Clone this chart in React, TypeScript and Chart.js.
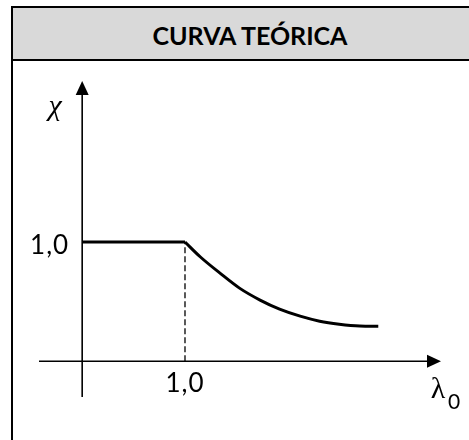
import React, { useEffect, useRef } from "react";
import { Chart, registerables } from "chart.js";

Chart.register(...registerables);

// ---- data ----
const flatX = [0, 1.0];
const flatY = [1.0, 1.0];
const curveX = [1.0, 1.15, 1.34, 1.53, 1.73, 1.92, 2.12, 2.31, 2.5, 2.7, 2.88];
const curveY = [1.0, 0.874, 0.739, 0.613, 0.513, 0.437, 0.378, 0.336, 0.311, 0.296, 0.294];
const dashX = [1.0, 1.0];
const dashY = [0, 1.0];
const xTickValues = [1.0];
const xTickLabels = ["1,0"];
const yTickValues = [1.0];
const yTickLabels = ["1,0"];
const titleText = "CURVA TEÓRICA";
const yAxisSymbol = "χ";
const xAxisSymbol = "λ";
const xAxisSubscript = "0";

const X_MIN = -0.42;
const X_MAX = 3.49;
const Y_MIN = -0.3;
const Y_MAX = 2.35;

const toPts = (xs: number[], ys: number[]) => xs.map((x, i) => ({ x, y: ys[i] }));

const axesPlugin = {
  id: "diagramAxes",
  afterDatasetsDraw(chart: any) {
    const ctx = chart.ctx as CanvasRenderingContext2D;
    const xs = chart.scales.x;
    const ys = chart.scales.y;
    const area = chart.chartArea;
    const x0 = xs.getPixelForValue(0);
    const y0 = ys.getPixelForValue(0);
    const head = 14;
    const half = 6.5;
    ctx.save();
    ctx.strokeStyle = "#000";
    ctx.fillStyle = "#000";
    ctx.lineWidth = 1.6;
    // x axis
    ctx.beginPath();
    ctx.moveTo(area.left, y0);
    ctx.lineTo(area.right - head + 1, y0);
    ctx.stroke();
    ctx.beginPath();
    ctx.moveTo(area.right, y0);
    ctx.lineTo(area.right - head, y0 - half);
    ctx.lineTo(area.right - head, y0 + half);
    ctx.closePath();
    ctx.fill();
    // y axis
    ctx.beginPath();
    ctx.moveTo(x0, area.bottom);
    ctx.lineTo(x0, area.top + head - 1);
    ctx.stroke();
    ctx.beginPath();
    ctx.moveTo(x0, area.top);
    ctx.lineTo(x0 - half, area.top + head);
    ctx.lineTo(x0 + half, area.top + head);
    ctx.closePath();
    ctx.fill();

    // tick labels
    ctx.font = "26px Lato, 'Open Sans', sans-serif";
    (ctx as any).letterSpacing = "1px";
    ctx.textBaseline = "middle";
    ctx.textAlign = "center";
    xTickValues.forEach((v, i) => {
      ctx.fillText(xTickLabels[i], xs.getPixelForValue(v), y0 + 22);
    });
    ctx.textAlign = "right";
    yTickValues.forEach((v, i) => {
      ctx.fillText(yTickLabels[i], x0 - 13, ys.getPixelForValue(v) + 4);
    });
    (ctx as any).letterSpacing = "0px";

    // axis symbols
    ctx.textAlign = "center";
    ctx.textBaseline = "alphabetic";
    ctx.font = "italic 30px 'Liberation Serif', 'DejaVu Serif', serif";
    ctx.fillText(yAxisSymbol, x0 - 27, area.top + 34);
    ctx.font = "30px 'Liberation Serif', 'DejaVu Serif', serif";
    ctx.fillText(xAxisSymbol, area.right - 3, y0 + 37);
    ctx.font = "21px Lato, 'Open Sans', sans-serif";
    ctx.fillText(xAxisSubscript, area.right + 13, y0 + 48);
    ctx.restore();
  },
};

export default function App() {
  const ref = useRef<HTMLCanvasElement | null>(null);
  useEffect(() => {
    if (!ref.current) return;
    const chart = new Chart(ref.current, {
      type: "line",
      data: {
        datasets: [
          {
            data: toPts(flatX, flatY),
            borderColor: "#000",
            borderWidth: 3,
            pointRadius: 0,
            tension: 0,
          },
          {
            data: toPts(curveX, curveY),
            borderColor: "#000",
            borderWidth: 3,
            pointRadius: 0,
            cubicInterpolationMode: "monotone",
          },
          {
            data: toPts(dashX, dashY),
            borderColor: "#000",
            borderWidth: 1.3,
            borderDash: [6, 3],
            pointRadius: 0,
          },
        ],
      },
      options: {
        responsive: false,
        animation: false,
        layout: { padding: { left: 39, right: 28, top: 81, bottom: 43 } },
        plugins: { legend: { display: false }, tooltip: { enabled: false }, title: { display: false } },
        scales: {
          x: { type: "linear", min: X_MIN, max: X_MAX, display: false },
          y: { type: "linear", min: Y_MIN, max: Y_MAX, display: false },
        },
      },
      plugins: [axesPlugin],
    });
    return () => chart.destroy();
  }, []);

  return (
    <div style={{ position: "fixed", left: 0, top: 0, width: 469, height: 440, overflow: "hidden", background: "#fff" }}>
      <div
        style={{
          position: "absolute",
          left: 11,
          top: 6,
          width: 480,
          height: 500,
          border: "2px solid #000",
          boxSizing: "border-box",
        }}
      >
        <div
          style={{
            height: 49,
            background: "#d9d9d9",
            borderBottom: "2px solid #000",
            display: "flex",
            alignItems: "center",
            justifyContent: "center",
            paddingRight: 2,
            paddingTop: 2,
            boxSizing: "content-box",
            fontFamily: "Lato, 'Open Sans', sans-serif",
            fontWeight: 700,
            fontSize: 25,
            color: "#000",
          }}
        >
          {titleText}
        </div>
      </div>
      <canvas ref={ref} width={469} height={440} style={{ position: "absolute", left: 0, top: 0 }} />
    </div>
  );
}
